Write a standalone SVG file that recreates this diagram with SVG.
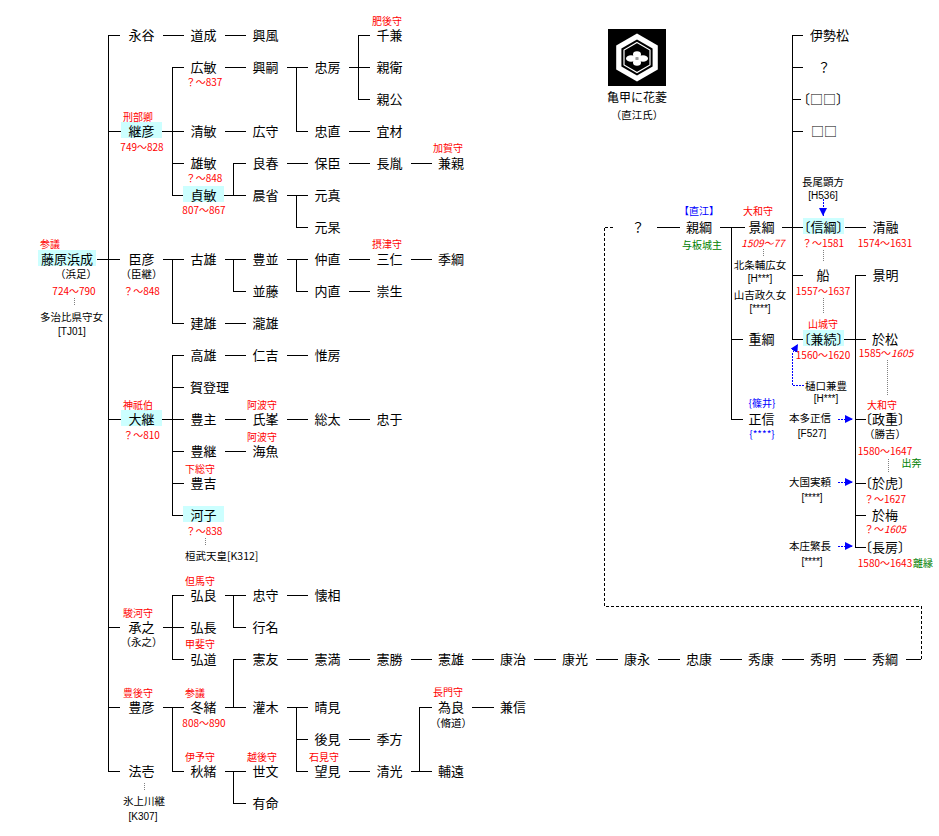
<svg xmlns="http://www.w3.org/2000/svg" width="939" height="836" viewBox="0 0 939 836">
<style>
text{font-family:"Noto Sans CJK JP","Noto Sans",sans-serif}
.n{font-size:13px;text-anchor:middle;fill:#000}
.t{font-size:10px;text-anchor:middle;fill:#f00}
.d{font-size:10px;text-anchor:middle;fill:#f00}
.s{font-size:10.5px;text-anchor:middle;fill:#000}
.c{font-family:"Liberation Sans",Arial,sans-serif;font-size:10px;text-anchor:middle;fill:#000}
.b{font-size:10px;text-anchor:middle;fill:#00f}
.g{font-size:10px;text-anchor:middle;fill:#008000}
.h{font-feature-settings:"halt"}
.i{font-style:italic}
.hl{fill:#ccffff}
.ln{stroke:#000;stroke-width:1;fill:none}
.ds{stroke:#000;stroke-width:1;fill:none;stroke-dasharray:3 2}
.gd{stroke:#808080;stroke-width:1;fill:none;stroke-dasharray:1 1}
.bd{stroke:#00f;stroke-width:1;fill:none;stroke-dasharray:2 1}
</style>
<defs>
<marker id="ab" markerWidth="8" markerHeight="8" refX="8" refY="4" orient="auto" markerUnits="userSpaceOnUse"><path d="M0 0L8 4L0 8Z" fill="#00f"/></marker>
</defs>
<rect width="939" height="836" fill="#fff"/>

<g id="connectors" shape-rendering="crispEdges">
<path class="ln" d="M108 35V771M108 35H120M108 131H121M97 259H120M108 419H121M108 627H120M108 707H120M108 771H120
M163 35H184M225 35H246
M162 131H172M172 67V195M172 67H184M172 131H184M172 163H184M172 195H183
M225 67H246
M287 67H296M296 67V131M296 67H308M296 131H308
M349 67H358M358 35V99M358 35H370M358 67H370M358 99H370
M225 131H246M349 131H370
M224 195H233M233 163V195M233 163H246M233 195H246
M287 163H308M349 163H370M411 163H432
M287 195H296M296 195V227M296 195H308M296 227H308
M163 259H172M172 259V323M172 259H184M172 323H184
M225 259H233M233 259V291M233 259H246M233 291H246
M287 259H296M296 259V291M296 259H308M296 291H308
M349 259H370M411 259H432M349 291H370
M225 323H246
M162 419H172M172 355V515M172 355H184M172 387H184M172 419H184M172 451H184M172 483H184M172 515H183
M225 355H246M287 355H308
M225 419H246M287 419H308M349 419H370
M225 451H246
M163 627H172M172 595V659M172 595H184M172 627H184M172 659H184
M225 595H233M233 595V627M233 595H246M233 627H246
M287 595H308
M163 707H172M172 707V771M172 707H184M172 771H184
M225 707H233M233 659V707M233 659H246M233 707H246
M287 659H308M349 659H370M411 659H432M472 659H494M534 659H556M596 659H618M658 659H680M720 659H742M782 659H804M844 659H866M906 659H921
M287 707H296M296 707V771M296 707H308M296 739H308M296 771H308
M349 739H370M349 771H370
M411 771H419M419 707V771M419 707H432M419 771H432
M472 707H494
M225 771H233M233 771V803M233 771H246M233 803H246
M657 227H680M720 227H745M731 227V419M731 339H743M731 419H743
M782 227H803M792 35V339M792 35H803M792 67H803M792 99H801M792 131H803M792 275H803M792 339H803
M845 227H866
M844 339H866M855 275V547M855 275H866M855 419H866M855 483H866M855 515H866M855 547H866"/>
<path class="ds" d="M921 659V606H604V227H614"/>
<path class="gd" d="M74 298V306M205 538V546M144 783V791M763 249V256M823 250V262M823 298V313M887 360V395M888 459V473"/>
<path class="bd" d="M823 199V216" marker-end="url(#ab)"/>
<path class="bd" d="M804 385H792V354L798 344" marker-end="url(#ab)"/>
<path class="bd" d="M838 419H853" marker-end="url(#ab)"/>
<path class="bd" d="M838 482H853" marker-end="url(#ab)"/>
<path class="bd" d="M838 546H853" marker-end="url(#ab)"/>
</g>

<g id="crest">
<rect x="608" y="29" width="58" height="57" fill="#000"/>
<polygon points="637,33.5 657.8,45.5 657.8,69.5 637,81.5 616.2,69.5 616.2,45.5" fill="#fff"/>
<polygon points="637,39.5 652.6,48.5 652.6,66.5 637,75.5 621.4,66.5 621.4,48.5" fill="#000"/>
<polygon points="637,42.5 650,50 650,65 637,72.5 624,65 624,50" fill="none" stroke="#fff" stroke-width="1.2"/>
<g fill="#fff">
<ellipse cx="631" cy="58.5" rx="5" ry="3.3"/><ellipse cx="643" cy="58.5" rx="5" ry="3.3"/>
<ellipse cx="637" cy="54.5" rx="4" ry="3.2"/><ellipse cx="637" cy="62.5" rx="4" ry="3.2"/>
</g>
<circle cx="637" cy="58.5" r="1.5" fill="#999"/>
<text class="s" x="637" y="102" style="font-size:12px">亀甲に花菱</text>
<text class="s h" x="637" y="119">（直江氏）</text>
</g>

<g id="hamanari"><rect class="hl" x="38" y="250" width="58" height="16"/><text class="t" x="50" y="248">参議</text><text class="n" x="67" y="264">藤原浜成</text><text class="s h" x="76" y="278">（浜足）</text><text class="d" x="74" y="295">724〜790</text><text class="s" x="71.5" y="321">多治比県守女</text><text class="c" x="72" y="335">[TJ01]</text></g>

<g id="nagaya"><text class="n" x="141.5" y="40">永谷</text></g>
<g id="michinari"><text class="n" x="203.5" y="40">道成</text></g>
<g id="okikaze"><text class="n" x="265.5" y="40">興風</text></g>
<g id="tsuguhiko"><rect class="hl" x="121" y="122" width="41" height="16"/><text class="t" x="138" y="121">刑部卿</text><text class="n" x="141.5" y="136">継彦</text><text class="d" x="142" y="151">749〜828</text></g>
<g id="hirotoshi"><text class="n" x="203.5" y="72">広敏</text><text class="d" x="204" y="86">？〜837</text></g>
<g id="okitsugu"><text class="n" x="265.5" y="72">興嗣</text></g>
<g id="tadafusa"><text class="n" x="327.5" y="72">忠房</text></g>
<g id="chikane"><text class="t" x="387" y="25">肥後守</text><text class="n" x="389.5" y="40">千兼</text></g>
<g id="chikamori"><text class="n" x="389.5" y="72">親衛</text></g>
<g id="chikakimi"><text class="n" x="389.5" y="104">親公</text></g>
<g id="kiyotoshi"><text class="n" x="203.5" y="136">清敏</text></g>
<g id="hiromori"><text class="n" x="265.5" y="136">広守</text></g>
<g id="tadanao"><text class="n" x="327.5" y="136">忠直</text></g>
<g id="yoshiki"><text class="n" x="389.5" y="136">宜材</text></g>
<g id="katsutoshi"><text class="n" x="203.5" y="168">雄敏</text><text class="d" x="204" y="182">？〜848</text></g>
<g id="yoshiharu"><text class="n" x="265.5" y="168">良春</text></g>
<g id="yasuomi"><text class="n" x="327.5" y="168">保臣</text></g>
<g id="nagatane"><text class="n" x="389.5" y="168">長胤</text></g>
<g id="kanechika"><text class="t" x="448" y="152">加賀守</text><text class="n" x="451" y="168">兼親</text></g>
<g id="sadatoshi"><rect class="hl" x="183" y="186" width="41" height="16"/><text class="n" x="203.5" y="200">貞敏</text><text class="d" x="204" y="214">807〜867</text></g>
<g id="asami"><text class="n" x="265.5" y="200">晨省</text></g>
<g id="motozane"><text class="n" x="327.5" y="200">元真</text></g>
<g id="motoaki"><text class="n" x="327.5" y="232">元杲</text></g>
<g id="omihiko"><text class="n" x="141.5" y="264">臣彦</text><text class="s h" x="141.5" y="278">（臣継）</text><text class="d" x="141.5" y="295">？〜848</text></g>
<g id="furuo"><text class="n" x="203.5" y="264">古雄</text></g>
<g id="toyonami"><text class="n" x="265.5" y="264">豊並</text></g>
<g id="nakanao"><text class="n" x="327.5" y="264">仲直</text></g>
<g id="mihito"><text class="t" x="387" y="248">摂津守</text><text class="n" x="389.5" y="264">三仁</text></g>
<g id="suetsuna"><text class="n" x="451" y="264">季綱</text></g>
<g id="namifuji"><text class="n" x="265.5" y="296">並藤</text></g>
<g id="uchinao"><text class="n" x="327.5" y="296">内直</text></g>
<g id="takao2"><text class="n" x="389.5" y="296">崇生</text></g>
<g id="takeo"><text class="n" x="203.5" y="328">建雄</text></g>
<g id="takio"><text class="n" x="265.5" y="328">瀧雄</text></g>
<g id="takao"><text class="n" x="203.5" y="360">高雄</text></g>
<g id="hitoyoshi"><text class="n" x="265.5" y="360">仁吉</text></g>
<g id="korefusa"><text class="n" x="327.5" y="360">惟房</text></g>
<g id="katori"><text class="n" x="209.5" y="392">賀登理</text></g>
<g id="otsugu"><rect class="hl" x="121" y="410" width="41" height="16"/><text class="t" x="138" y="409">神祇伯</text><text class="n" x="141.5" y="424">大継</text><text class="d" x="141.5" y="439">？〜810</text></g>
<g id="toyonushi"><text class="n" x="203.5" y="424">豊主</text></g>
<g id="ujimine"><text class="t" x="262" y="409">阿波守</text><text class="n" x="265.5" y="424">氏峯</text></g>
<g id="fusata"><text class="n" x="327.5" y="424">総太</text></g>
<g id="tadayuki"><text class="n" x="389.5" y="424">忠于</text></g>
<g id="toyotsugu"><text class="n" x="203.5" y="456">豊継</text></g>
<g id="umiuo"><text class="t" x="262" y="441">阿波守</text><text class="n" x="265.5" y="456">海魚</text></g>
<g id="toyoyoshi"><text class="t" x="200" y="473">下総守</text><text class="n" x="203.5" y="488">豊吉</text></g>
<g id="kawako"><rect class="hl" x="183" y="506" width="41" height="16"/><text class="n" x="203.5" y="520">河子</text><text class="d" x="204" y="535">？〜838</text><text class="s" x="185" y="560" style="text-anchor:start">桓武天皇[K312]</text></g>

<g id="hiroyoshi"><text class="t" x="200" y="585">但馬守</text><text class="n" x="203.5" y="600">弘良</text></g>
<g id="tadamori"><text class="n" x="265.5" y="600">忠守</text></g>
<g id="kaneai"><text class="n" x="327.5" y="600">懐相</text></g>
<g id="tsuguyuki"><text class="t" x="138" y="617">駿河守</text><text class="n" x="141.5" y="632">承之</text><text class="s h" x="141.5" y="646">（永之）</text></g>
<g id="hironaga"><text class="n" x="203.5" y="632">弘長</text></g>
<g id="yukina"><text class="n" x="265.5" y="632">行名</text></g>
<g id="hiromichi"><text class="t" x="200" y="648">甲斐守</text><text class="n" x="203.5" y="664">弘道</text></g>
<g id="chain">
<text class="n" x="265.5" y="664">憲友</text>
<text class="n" x="327.5" y="664">憲満</text>
<text class="n" x="389.5" y="664">憲勝</text>
<text class="n" x="451" y="664">憲雄</text>
<text class="n" x="513" y="664">康治</text>
<text class="n" x="575" y="664">康光</text>
<text class="n" x="637" y="664">康永</text>
<text class="n" x="699" y="664">忠康</text>
<text class="n" x="761" y="664">秀康</text>
<text class="n" x="823" y="664">秀明</text>
<text class="n" x="885" y="664">秀綱</text>
</g>
<g id="toyohiko"><text class="t" x="138" y="697">豊後守</text><text class="n" x="141.5" y="712">豊彦</text></g>
<g id="fuyutsugu"><text class="t" x="195" y="697">参議</text><text class="n" x="203.5" y="712">冬緒</text><text class="d" x="204" y="727">808〜890</text></g>
<g id="sosogi"><text class="n" x="265.5" y="712">灌木</text></g>
<g id="harumi"><text class="n" x="327.5" y="712">晴見</text></g>
<g id="tameyoshi"><text class="t" x="448" y="696">長門守</text><text class="n" x="451" y="712">為良</text><text class="s h" x="451" y="727">（脩道）</text></g>
<g id="kanenobu"><text class="n" x="513" y="712">兼信</text></g>
<g id="nochimi"><text class="n" x="327.5" y="744">後見</text></g>
<g id="suekata"><text class="n" x="389.5" y="744">季方</text></g>
<g id="noriichi"><text class="n" x="141.5" y="776">法壱</text><text class="s" x="144" y="805">氷上川継</text><text class="c" x="143" y="820">[K307]</text></g>
<g id="akitsugu"><text class="t" x="200" y="761">伊予守</text><text class="n" x="203.5" y="776">秋緒</text></g>
<g id="yofumi"><text class="t" x="262" y="761">越後守</text><text class="n" x="265.5" y="776">世文</text></g>
<g id="arinori"><text class="n" x="265.5" y="808">有命</text></g>
<g id="mochimi"><text class="t" x="324" y="761">石見守</text><text class="n" x="327.5" y="776">望見</text></g>
<g id="kiyomitsu"><text class="n" x="389.5" y="776">清光</text></g>
<g id="suketo"><text class="n" x="451" y="776">輔遠</text></g>

<g id="unknown"><text class="n" x="638" y="232">？</text></g>
<g id="chikatsuna"><text class="b h" x="699" y="215">【直江】</text><text class="n" x="699" y="232">親綱</text><text class="g" x="702" y="249">与板城主</text></g>
<g id="kagetsuna"><text class="t" x="758" y="215">大和守</text><text class="n" x="761.5" y="232">景綱</text><text class="d i" x="763" y="247">1509〜77</text><text class="s" x="760" y="269">北条輔広女</text><text class="c" x="760" y="282">[H***]</text><text class="s" x="760" y="299">山吉政久女</text><text class="c" x="760" y="312">[****]</text></g>
<g id="shigetsuna"><text class="n" x="761.5" y="344">重綱</text></g>
<g id="masanobu"><text class="b" x="762" y="407">{篠井}</text><text class="n" x="761.5" y="424">正信</text><text class="b" x="762" y="438">{****}</text></g>
<g id="isematsu"><text class="n" x="829.5" y="40">伊勢松</text></g>
<g id="q2"><text class="n" x="824" y="72">？</text></g>
<g id="sq1"><text class="n h" x="823" y="104">〔□□〕</text></g>
<g id="sq2"><text class="n" x="824" y="136">□□</text></g>
<g id="nobutsuna"><text class="s" x="823" y="186">長尾顕方</text><text class="c" x="823" y="199">[H536]</text><rect class="hl" x="803" y="218" width="41" height="16"/><text class="n h" x="823.5" y="232">〔信綱〕</text><text class="d" x="823" y="247">？〜1581</text></g>
<g id="yuu"><text class="n" x="885.5" y="232">清融</text><text class="d" x="885" y="247">1574〜1631</text></g>
<g id="sen"><text class="n" x="823" y="280">船</text><text class="d" x="823" y="295">1557〜1637</text></g>
<g id="kageaki"><text class="n" x="885.5" y="280">景明</text></g>
<g id="kanetsugu"><text class="t" x="823" y="328">山城守</text><rect class="hl" x="803" y="330" width="41" height="16"/><text class="n h" x="823.5" y="344">〔兼続〕</text><text class="d" x="823" y="359">1560〜1620</text><text class="s" x="826" y="390">樋口兼豊</text><text class="c" x="826" y="402">[H***]</text></g>
<g id="omatsu"><text class="n" x="885" y="344">於松</text><text class="d" x="886" y="357">1585〜<tspan class="i">1605</tspan></text></g>
<g id="masashige"><text class="s" x="810" y="422">本多正信</text><text class="c" x="812" y="437">[F527]</text><text class="t" x="882" y="409">大和守</text><text class="n h" x="885" y="424">〔政重〕</text><text class="s h" x="885" y="438">（勝吉）</text><text class="d" x="885" y="455">1580〜1647</text><text class="g" x="911.5" y="467">出奔</text></g>
<g id="otora"><text class="s" x="810" y="486">大国実頼</text><text class="c" x="812" y="501">[****]</text><text class="n h" x="885" y="488">〔於虎〕</text><text class="d" x="885" y="503">？〜1627</text></g>
<g id="oume"><text class="n" x="885" y="520">於梅</text><text class="d" x="885" y="533">？〜<tspan class="i">1605</tspan></text></g>
<g id="nagafusa"><text class="s" x="810" y="550">本庄繁長</text><text class="c" x="812" y="565">[****]</text><text class="n h" x="885" y="552">〔長房〕</text><text class="d" x="885" y="567">1580〜1643</text><text class="g" x="913" y="567" style="text-anchor:start">離縁</text></g>
</svg>
